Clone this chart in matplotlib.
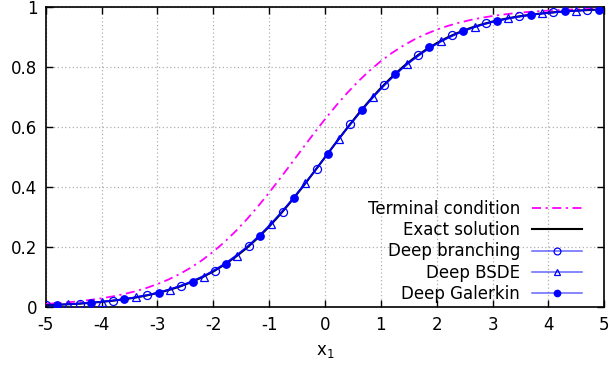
import numpy as np
import matplotlib
matplotlib.use("Agg")
from matplotlib import pyplot as plt

plt.rcParams['font.family'] = 'DejaVu Sans'
plt.rcParams['axes.unicode_minus'] = False
plt.rcParams['mathtext.default'] = 'regular'

# --- data ---
x_line = np.linspace(-5, 5, 51)

terminal = [0.0112, 0.0137, 0.0166, 0.0202, 0.0246, 0.0299, 0.0363, 0.0439, 0.0532, 0.0642,
            0.0773, 0.0928, 0.1111, 0.1324, 0.1571, 0.1854, 0.2175, 0.2535, 0.2932, 0.3363,
            0.3823, 0.4305, 0.4800, 0.5300, 0.5793, 0.6271, 0.6726, 0.7150, 0.7540, 0.7892,
            0.8205, 0.8481, 0.8721, 0.8929, 0.9105, 0.9255, 0.9382, 0.9488, 0.9577, 0.9651,
            0.9712, 0.9763, 0.9806, 0.9841, 0.9869, 0.9892, 0.9912, 0.9928, 0.9941, 0.9951,
            0.9960]

exact = [0.0067, 0.0082, 0.0100, 0.0121, 0.0148, 0.0180, 0.0219, 0.0266, 0.0323, 0.0392,
         0.0474, 0.0573, 0.0691, 0.0832, 0.0998, 0.1192, 0.1419, 0.1680, 0.1978, 0.2315,
         0.2689, 0.3100, 0.3543, 0.4013, 0.4502, 0.5000, 0.5498, 0.5987, 0.6457, 0.6900,
         0.7311, 0.7685, 0.8022, 0.8320, 0.8581, 0.8808, 0.9002, 0.9168, 0.9309, 0.9427,
         0.9526, 0.9608, 0.9677, 0.9734, 0.9781, 0.9820, 0.9852, 0.9879, 0.9900, 0.9918,
         0.9933]

x_branch = [-5.00, -4.39, -3.79, -3.18, -2.58, -1.97, -1.36, -0.76, -0.15,
            0.45, 1.06, 1.67, 2.27, 2.88, 3.48, 4.09, 4.70]
y_branch = [0.0067, 0.0123, 0.0221, 0.0399, 0.0704, 0.1224, 0.2042, 0.3187, 0.4626,
            0.6106, 0.7427, 0.8416, 0.9064, 0.9469, 0.9701, 0.9835, 0.9910]

x_bsde = [-4.60, -3.99, -3.38, -2.78, -2.17, -1.57, -0.96, -0.35,
          0.25, 0.86, 1.46, 2.07, 2.68, 3.28, 3.89, 4.49]
y_bsde = [0.0099, 0.0182, 0.0329, 0.0584, 0.1025, 0.1722, 0.2769, 0.4134,
          0.5622, 0.7027, 0.8115, 0.8880, 0.9358, 0.9637, 0.9800, 0.9889]

x_galerkin = [-4.80, -4.19, -3.59, -2.98, -2.37, -1.77, -1.16, -0.56, 0.05,
              0.66, 1.26, 1.87, 2.47, 3.08, 3.69, 4.29, 4.90]
y_galerkin = [0.0082, 0.0149, 0.0269, 0.0483, 0.0855, 0.1455, 0.2387, 0.3635, 0.5125,
              0.6593, 0.7790, 0.8665, 0.9220, 0.9561, 0.9756, 0.9865, 0.9926]

xticks = [-5, -4, -3, -2, -1, 0, 1, 2, 3, 4, 5]
yticks = [0, 0.2, 0.4, 0.6, 0.8, 1]
ytick_labels = ['0', '0.2', '0.4', '0.6', '0.8', '1']

# --- figure ---
fig = plt.figure(figsize=(6.1, 3.68), dpi=100)
ax = fig.add_axes([0.075, 0.165, 0.9155, 0.815])

blue_line = (0.0, 0.0, 1.0, 0.6)

ax.plot(x_line, terminal, color='magenta', lw=1.3, dashes=(5, 2.5, 1.2, 2.5),
        label='Terminal condition', zorder=3)
ax.plot(x_line, exact, color='black', lw=1.5, label='Exact solution', zorder=3)
ax.plot(x_branch, y_branch, color=blue_line, lw=1.1, marker='o', ms=5.8,
        mfc='none', mec='blue', mew=0.9, label='Deep branching', zorder=4)
ax.plot(x_bsde, y_bsde, color=blue_line, lw=1.1, marker='^', ms=5.5,
        mfc='none', mec='blue', mew=0.9, label='Deep BSDE', zorder=4)
ax.plot(x_galerkin, y_galerkin, color=blue_line, lw=1.1, marker='o', ms=5.3,
        mfc='blue', mec='blue', label='Deep Galerkin', zorder=4)

ax.set_xlim(-5, 5)
ax.set_ylim(0, 1)
ax.set_xticks(xticks)
ax.set_xticklabels([str(t) for t in xticks])
ax.set_yticks(yticks)
ax.set_yticklabels(ytick_labels)
ax.tick_params(direction='in', length=5, width=1, top=True, right=True,
               labelsize=12, pad=6, colors='black')
ax.grid(True, color='#b0b0b0', linestyle=(0, (1, 2)), lw=0.9)
for s in ax.spines.values():
    s.set_linewidth(1.2)

ax.set_xlabel('x$_1$', fontsize=12, labelpad=6)

leg = ax.legend(loc='lower right', bbox_to_anchor=(0.982, -0.025), frameon=False,
                markerfirst=False, fontsize=12, handlelength=3.0, markerscale=0.85,
                labelspacing=0.2, handletextpad=0.75, borderaxespad=0.3)
for t in leg.get_texts():
    t.set_ha('right')

fig.savefig('out.png', dpi=100)
